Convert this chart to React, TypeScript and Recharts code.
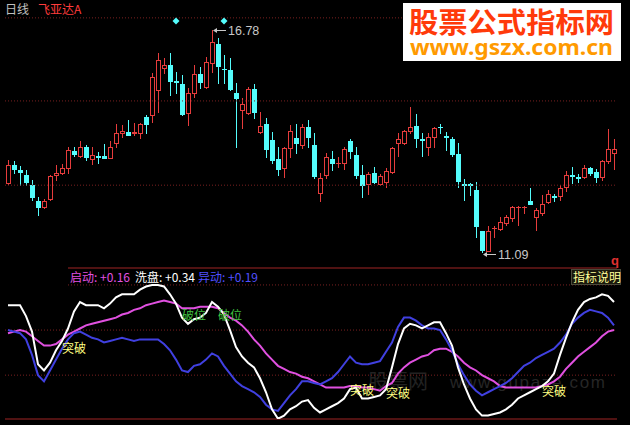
import React from 'react'
import { ComposedChart, Bar, Line, XAxis, YAxis, ReferenceLine, ReferenceDot } from 'recharts'

// daily candles, 飞亚达A
const opens = [
  12.86, 13.32, 13.18, 13.06, 12.81, 12.4, 12.24, 12.45, 13.06, 13.11,
  13.24, 13.68, 13.55, 13.78, 13.47, 13.54, 13.55, 13.5, 13.88, 14.14,
  14.17, 14.14, 14.14, 14.55, 14.6, 15.24, 15.81, 15.88, 15.46, 15.4,
  14.65, 15.17, 15.65, 15.32, 15.93, 16.42, 15.79, 15.75, 15.17, 14.73,
  14.65, 15.27, 14.17, 14.37, 13.96, 13.47, 13.24, 13.76, 14.01, 13.83,
  14.29, 13.83, 12.6, 13.06, 13.47, 13.36, 13.37, 13.94, 13.58, 13.06,
  12.83, 13.11, 12.83, 12.88, 13.14, 13.88, 13.88, 14.19, 14.32, 13.99,
  13.78, 14.04, 14.3, 14.05, 13.99, 13.6, 12.82, 12.82, 12.68, 11.63,
  11.12, 11.69, 11.68, 11.83, 11.96, 12.23, 12.23, 12.4, 11.99, 12.09,
  12.37, 12.51, 12.53, 12.76, 13.05, 13.0, 13.01, 13.24, 13.14, 13.01,
  13.42, 13.63,
]
const highs = [
  13.45, 13.42, 13.29, 13.19, 12.94, 12.5, 12.45, 13.06, 13.32, 13.35,
  13.78, 13.78, 13.94, 13.83, 13.78, 13.65, 13.86, 13.94, 14.37, 14.35,
  14.47, 14.4, 14.4, 14.6, 15.68, 16.19, 16.06, 16.19, 15.7, 15.63,
  15.29, 15.88, 15.83, 16.09, 16.78, 16.57, 16.14, 16.06, 15.42, 15.04,
  15.32, 15.4, 14.68, 14.52, 14.17, 13.78, 13.78, 14.35, 14.37, 14.37,
  14.47, 14.14, 13.11, 13.63, 13.68, 13.53, 13.78, 13.99, 13.78, 13.32,
  13.14, 13.27, 13.09, 13.24, 13.78, 14.14, 14.22, 14.81, 14.63, 14.14,
  14.14, 14.29, 14.37, 14.17, 14.04, 13.88, 12.96, 12.86, 12.88, 11.63,
  11.76, 11.76, 11.99, 12.04, 12.27, 12.27, 12.27, 12.73, 12.22, 12.55,
  12.68, 12.58, 12.81, 13.17, 13.27, 13.09, 13.32, 13.27, 13.22, 13.45,
  14.24, 13.99,
]
const lows = [
  12.84, 13.11, 12.81, 12.81, 12.42, 12.04, 12.22, 12.43, 12.94, 13.09,
  13.11, 13.55, 13.53, 13.45, 13.35, 13.37, 13.49, 13.49, 13.78, 14.04,
  14.08, 14.09, 14.01, 14.14, 14.42, 14.68, 15.68, 15.11, 15.17, 14.6,
  14.35, 15.06, 15.29, 15.3, 15.7, 15.42, 15.42, 15.24, 13.78, 14.27,
  14.63, 14.52, 14.14, 13.53, 13.37, 13.06, 13.01, 13.53, 13.63, 13.76,
  13.78, 12.99, 12.4, 12.99, 13.19, 13.27, 13.22, 13.5, 12.99, 12.5,
  12.58, 12.86, 12.81, 12.76, 13.11, 13.55, 13.86, 14.14, 13.78, 13.55,
  13.58, 13.78, 14.14, 13.7, 13.55, 12.76, 12.42, 12.55, 11.47, 11.09,
  11.11, 11.47, 11.65, 11.78, 11.89, 11.78, 12.09, 12.31, 11.65, 12.04,
  12.35, 12.4, 12.42, 12.65, 12.86, 12.88, 12.99, 13.06, 12.88, 12.94,
  13.37, 13.22,
]
const closes = [
  13.32, 13.22, 13.15, 12.88, 12.5, 12.24, 12.4, 13.04, 13.11, 13.24,
  13.7, 13.6, 13.78, 13.53, 13.58, 13.52, 13.5, 13.78, 14.14, 14.19,
  14.09, 14.17, 14.37, 14.37, 15.57, 16.01, 15.88, 15.47, 15.44, 14.63,
  15.17, 15.65, 15.45, 15.96, 16.47, 15.86, 15.77, 15.27, 15.04, 14.88,
  15.27, 14.68, 14.32, 13.73, 13.45, 13.22, 13.76, 14.19, 13.88, 14.29,
  14.04, 13.04, 12.99, 13.53, 13.37, 13.38, 13.73, 13.68, 13.06, 12.81,
  13.09, 12.88, 13.04, 13.17, 13.76, 13.99, 14.19, 14.29, 14.01, 13.97,
  14.04, 14.27, 14.28, 14.03, 13.6, 12.91, 12.8, 12.8, 11.76, 11.14,
  11.63, 11.71, 11.86, 11.99, 12.24, 12.25, 12.25, 12.32, 12.17, 12.32,
  12.58, 12.49, 12.73, 13.06, 13.03, 12.98, 13.24, 13.11, 13.01, 13.42,
  13.73, 13.73,
]

// indicator lines
const qidong = [
  0.14, 0.15, 0.16, 0.15, 0.12, 0.09, 0.06, 0.06, 0.07, 0.1,
  0.13, 0.15, 0.17, 0.19, 0.2, 0.21, 0.22, 0.23, 0.24, 0.26,
  0.27, 0.29, 0.3, 0.32, 0.33, 0.34, 0.35, 0.34, 0.33, 0.3,
  0.3, 0.3, 0.31, 0.31, 0.31, 0.3, 0.27, 0.24, 0.22, 0.19,
  0.15, 0.1, 0.06, 0.01, -0.03, -0.07, -0.09, -0.11, -0.12, -0.14,
  -0.15, -0.17, -0.19, -0.21, -0.21, -0.21, -0.21, -0.2, -0.2, -0.21,
  -0.21, -0.22, -0.23, -0.2, -0.18, -0.12, -0.08, -0.05, -0.03, -0.01,
  0.0, 0.03, 0.04, 0.04, 0.02, -0.01, -0.05, -0.08, -0.1, -0.13,
  -0.15, -0.17, -0.2, -0.21, -0.21, -0.21, -0.21, -0.21, -0.21, -0.2,
  -0.19, -0.17, -0.14, -0.09, -0.05, -0.01, 0.02, 0.05, 0.08, 0.12,
  0.15, 0.16,
]
const xipan = [
  0.32, 0.32, 0.32, 0.25, 0.15, -0.06, -0.1, -0.05, 0.03, 0.09,
  0.17, 0.28, 0.34, 0.32, 0.32, 0.32, 0.3, 0.33, 0.37, 0.39,
  0.39, 0.39, 0.42, 0.44, 0.45, 0.45, 0.44, 0.39, 0.33, 0.24,
  0.2, 0.23, 0.24, 0.27, 0.34, 0.31, 0.26, 0.16, 0.05, -0.01,
  -0.05, -0.08, -0.15, -0.24, -0.35, -0.41, -0.39, -0.35, -0.33, -0.3,
  -0.29, -0.34, -0.37, -0.35, -0.33, -0.31, -0.28, -0.22, -0.21, -0.28,
  -0.28, -0.27, -0.26, -0.22, -0.08, 0.07, 0.17, 0.2, 0.19, 0.17,
  0.19, 0.21, 0.21, 0.14, 0.06, -0.08, -0.19, -0.28, -0.35, -0.39,
  -0.39, -0.38, -0.37, -0.35, -0.32, -0.28, -0.26, -0.24, -0.22, -0.2,
  -0.17, -0.12, 0.0, 0.11, 0.21, 0.29, 0.34, 0.36, 0.37, 0.39,
  0.38, 0.34,
]
const yidong = [
  0.16, 0.15, 0.14, 0.1, 0.0, -0.13, -0.17, -0.1, -0.03, 0.04,
  0.1, 0.14, 0.15, 0.13, 0.11, 0.1, 0.08, 0.09, 0.1, 0.11,
  0.1, 0.09, 0.1, 0.1, 0.1, 0.1, 0.07, 0.03, -0.03, -0.1,
  -0.11, -0.07, -0.06, -0.03, 0.01, -0.01, -0.07, -0.12, -0.17, -0.2,
  -0.22, -0.24, -0.27, -0.32, -0.35, -0.36, -0.31, -0.26, -0.22, -0.17,
  -0.17, -0.18, -0.19, -0.17, -0.15, -0.11, -0.06, -0.01, -0.05, -0.06,
  -0.06, -0.05, -0.04, 0.02, 0.08, 0.18, 0.24, 0.24, 0.22, 0.19,
  0.17, 0.17, 0.16, 0.1, 0.03, -0.06, -0.13, -0.19, -0.23, -0.26,
  -0.24, -0.22, -0.2, -0.18, -0.15, -0.11, -0.07, -0.05, -0.02, 0.0,
  0.02, 0.04, 0.08, 0.13, 0.2, 0.24, 0.27, 0.29, 0.28, 0.27,
  0.24, 0.19,
]

const priceDomain = [10.83, 17.42]
const priceGrid = [17.09, 14.96, 12.8]
const indDomain = [-0.412, 0.559]
const indGrid = [0.45, 0.16, -0.13]

const diamondBars = [28, 36]
const diamondLevel = 17.01
const highBar = 34
const lowBar = 79

const tags = [
  { i: 11, v: 0.05, text: '突破', color: '#ffff80' },
  { i: 31, v: 0.26, text: '破位', color: '#40c040' },
  { i: 37, v: 0.26, text: '破位', color: '#40c040' },
  { i: 59, v: -0.22, text: '突破', color: '#ffff80' },
  { i: 65, v: -0.24, text: '突破', color: '#ffff80' },
  { i: 91, v: -0.23, text: '突破', color: '#ffff80' },
]

const UP = '#e63c3c'
const DOWN = '#54fcfc'
const GRID = '#7a2020'
const FRAME = '#a02424'
const CJK = '"Noto Sans CJK SC", "Noto Sans", sans-serif'

const rows = opens.map((o, i) => ({
  i,
  o,
  h: highs[i],
  l: lows[i],
  c: closes[i],
  qd: qidong[i],
  xp: xipan[i],
  yd: yidong[i],
}))

function Candle(props: any) {
  const { x, y, width, height, payload } = props
  if (!payload || height == null) return null
  const { o, h, l, c } = payload
  const k = height / (h - l || 1)
  const toY = (v: number) => Math.round(y + (h - v) * k)
  const left = Math.floor(x + width / 2 - 3)
  const mid = left + 3.5
  const yH = toY(h)
  const yL = toY(l)
  const yTop = toY(Math.max(o, c))
  const yBot = toY(Math.min(o, c))
  const col = c >= o ? UP : DOWN
  if (yBot - yTop < 1) {
    return (
      <g>
        <line x1={mid} y1={yH} x2={mid} y2={yL + 1} stroke={col} />
        <rect x={left + 1} y={yTop} width={5} height={1} fill={col} />
      </g>
    )
  }
  if (c >= o) {
    return (
      <g>
        <line x1={mid} y1={yH} x2={mid} y2={yTop} stroke={col} />
        <line x1={mid} y1={yBot + 1} x2={mid} y2={yL + 1} stroke={col} />
        <rect x={left + 1.5} y={yTop + 0.5} width={4} height={yBot - yTop} fill="#000" stroke={col} />
      </g>
    )
  }
  return (
    <g>
      <line x1={mid} y1={yH} x2={mid} y2={yL + 1} stroke={col} />
      <rect x={left + 1} y={yTop} width={5} height={yBot - yTop + 1} fill={col} />
    </g>
  )
}

const Diamond = ({ cx, cy }: any) => (
  <path d={`M${cx} ${cy - 3.5} L${cx + 3.5} ${cy} L${cx} ${cy + 3.5} L${cx - 3.5} ${cy} Z`} fill={DOWN} />
)

function PriceTag({ cx, cy, label, dy }: any) {
  const y = Math.round(cy + dy) + 0.5
  const x0 = Math.round(cx) + 1
  return (
    <g>
      <line x1={x0 + 2} y1={y} x2={x0 + 13} y2={y} stroke="#c8c8c8" />
      <path d={`M${x0} ${y} l4 -2.5 v5 z`} fill="#c8c8c8" />
      <text x={x0 + 15} y={y} dominantBaseline="central" fill="#c8c8c8" fontSize={12.5} fontFamily="Liberation Sans, Arial">
        {label}
      </text>
    </g>
  )
}

const fmt = (v: number) => (v >= 0 ? '+' : '') + v.toFixed(2)

export default function App() {
  const last = rows.length - 1
  return (
    <div style={{ position: 'absolute', left: 0, top: 0, width: 630, height: 425, background: '#000', overflow: 'hidden' }}>
      {/* faint site watermark under the indicator lines */}
      <svg width={630} height={425} style={{ position: 'absolute', left: 0, top: 0 }}>
        <text x={368} y={389} fontSize={20} fill="#222" fontFamily={CJK}>股票网</text>
        <text x={450} y={388} fontSize={17} fill="#262626" fontFamily="Liberation Sans, Arial" textLength={155}>
          www.gupaze.com
        </text>
      </svg>

      <div style={{ position: 'absolute', left: 0, top: 0 }}>
        <ComposedChart width={630} height={265} data={rows} margin={{ top: 5, right: 13, bottom: 3, left: 5 }} barCategoryGap={0} barGap={0}>
          <XAxis dataKey="i" type="category" scale="band" hide />
          <YAxis type="number" domain={priceDomain} allowDataOverflow hide />
          {priceGrid.map((v) => (
            <ReferenceLine key={v} y={v} stroke={GRID} strokeDasharray="1 2" />
          ))}
          <Bar dataKey={(d: any) => [d.l, d.h]} shape={Candle} isAnimationActive={false} />
          {diamondBars.map((i) => (
            <ReferenceDot key={i} x={i} y={diamondLevel} shape={Diamond} />
          ))}
          <ReferenceDot x={highBar} y={highs[highBar]} shape={(p: any) => <PriceTag {...p} label={highs[highBar].toFixed(2)} dy={0} />} />
          <ReferenceDot x={lowBar} y={lows[lowBar]} shape={(p: any) => <PriceTag {...p} label={lows[lowBar].toFixed(2)} dy={2} />} />
        </ComposedChart>
      </div>

      <div style={{ position: 'absolute', left: 0, top: 263 }}>
        <ComposedChart width={630} height={160} data={rows} margin={{ top: 5, right: 13, bottom: 4, left: 5 }}>
          <XAxis dataKey="i" type="category" scale="band" hide />
          <YAxis type="number" domain={indDomain} allowDataOverflow hide />
          {indGrid.map((v) => (
            <ReferenceLine key={v} y={v} stroke={GRID} strokeDasharray="1 2" />
          ))}
          <ReferenceLine y={indDomain[1]} stroke={FRAME} />
          <ReferenceLine y={indDomain[0]} stroke={FRAME} />
          <Line dataKey="qd" type="linear" stroke="#e050e0" strokeWidth={2} dot={false} isAnimationActive={false} />
          <Line dataKey="yd" type="linear" stroke="#4040e0" strokeWidth={2} dot={false} isAnimationActive={false} />
          <Line dataKey="xp" type="linear" stroke="#ffffff" strokeWidth={2} dot={false} isAnimationActive={false} />
          {tags.map((t) => (
            <ReferenceDot
              key={t.i}
              x={t.i}
              y={t.v}
              shape={(p: any) => (
                <text x={p.cx} y={p.cy} textAnchor="middle" dominantBaseline="central" fill={t.color} fontSize={12} fontFamily={CJK}>
                  {t.text}
                </text>
              )}
            />
          ))}
        </ComposedChart>
      </div>

      <svg width={630} height={425} style={{ position: 'absolute', left: 0, top: 0, pointerEvents: 'none' }}>
        <text x={5} y={14} fontSize={12} fill="#c0c0c0" fontFamily={CJK}>日线</text>
        <text x={38} y={14} fontSize={12} fill="#ff3c3c" fontFamily={CJK}>飞亚达A</text>

        <rect x={403} y={3} width={218} height={58} fill="#ffffff" />
        <text x={409} y={33} fontSize={28} fontWeight={700} fill="#ff3a0a" fontFamily={CJK} textLength={205} lengthAdjust="spacingAndGlyphs">
          股票公式指标网
        </text>
        <text x={410} y={55} fontSize={21} fontWeight={700} fill="#ff9a00" fontFamily="Noto Sans, sans-serif" textLength={203} lengthAdjust="spacingAndGlyphs">
          www.gszx.com.cn
        </text>

        <text x={611} y={265} fontSize={13} fontWeight={700} fill="#e03030" fontFamily="Liberation Sans, Arial">q</text>

        <rect x={0} y={262} width={68} height={24} fill="#000" />
        <text x={70} y={282} fontSize={12} fill="#e050e0" fontFamily={CJK}>启动: {fmt(qidong[last])}</text>
        <text x={135} y={282} fontSize={12} fill="#ffffff" fontFamily={CJK}>洗盘: {fmt(xipan[last])}</text>
        <text x={198} y={282} fontSize={12} fill="#5050ff" fontFamily={CJK}>异动: {fmt(yidong[last])}</text>

        <rect x={571.5} y={269.5} width={49} height={15} fill="#1a180c" stroke="#4a4a3a" />
        <text x={573} y={282} fontSize={12} fill="#ffff99" fontFamily={CJK}>指标说明</text>
      </svg>
    </div>
  )
}
